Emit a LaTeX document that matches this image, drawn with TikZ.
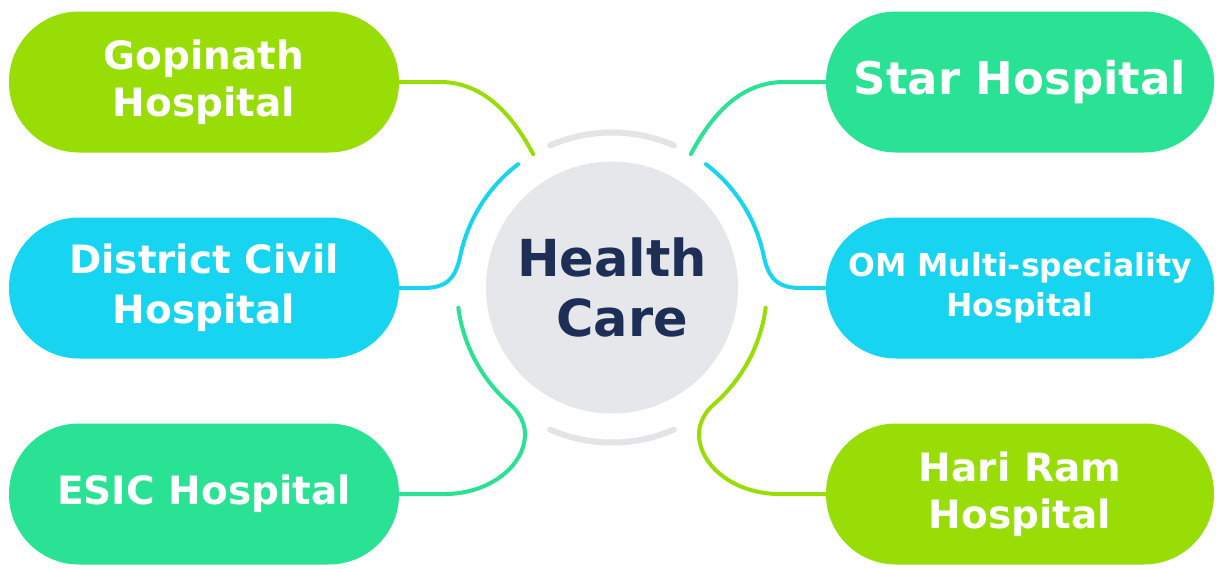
\documentclass[tikz,border=0pt]{standalone}
\usepackage{fontspec}
\setmainfont{DejaVu Sans}
\usetikzlibrary{calc}
\definecolor{cLime}{HTML}{98DE06}
\definecolor{cCyan}{HTML}{17D5F1}
\definecolor{cMint}{HTML}{2AE293}
\definecolor{cNavy}{HTML}{1D2F56}
\definecolor{cHub}{HTML}{E5E7EA}
\definecolor{cRing}{HTML}{E2E4E7}
\tikzset{
  pill/.style={rectangle, rounded corners=70pt, minimum width=390pt, minimum height=141pt,
    inner sep=0pt, text=white, align=center},
  conn/.style={line width=4pt, line cap=round},
  ring/.style={line width=6pt, line cap=round, cRing},
}
\begin{document}
\begin{tikzpicture}[x=1pt,y=-1pt]
\useasboundingbox (0,0) rectangle (1216,568);
\fill[white] (0,0) rectangle (1216,568);

% hub
\node[circle, fill=cHub, minimum size=252pt, inner sep=0pt, text=cNavy, align=center,
  font=\fontsize{51}{60}\selectfont\bfseries] (hub) at (612,287.5) {Health\\\hspace*{20pt}Care};

% pills
\node[pill, fill=cLime, font=\fontsize{39}{46.6}\selectfont\bfseries] (gop) at (204,82)
  {Gopinath\\Hospital};
\node[pill, fill=cCyan, font=\fontsize{39}{50}\selectfont\bfseries] (dist) at (204,288)
  {District Civil\\Hospital};
\node[pill, fill=cMint, font=\fontsize{39}{46.6}\selectfont\bfseries] (esic) at (204,494)
  {ESIC Hospital};
\node[pill, minimum width=388pt, fill=cMint, font=\fontsize{45}{52}\selectfont\bfseries] (star) at (1020,82)
  {Star Hospital};
\node[pill, minimum width=388pt, fill=cCyan, font=\fontsize{31.5}{40}\selectfont\bfseries] (om) at (1020,288)
  {OM Multi-speciality\\Hospital};
\node[pill, minimum width=388pt, fill=cLime, font=\fontsize{39}{46.6}\selectfont\bfseries] (hari) at (1020,494)
  {Hari Ram\\Hospital};

% rings
\draw[ring] ($(hub.center)+(-113.5:155)$) arc[start angle=-113.5, end angle=-66.5, radius=155];
\draw[ring] ($(hub.center)+(66.5:155)$) arc[start angle=66.5, end angle=113.5, radius=155];

% connector end points
\coordinate (ge) at ($(hub.center)+(-120.6:155)$);
\coordinate (se) at ($(hub.center)+(-59.4:155)$);
\coordinate (dj) at ($(hub.center)+(-168.7:155)$);
\coordinate (oj) at ($(hub.center)+(-11.3:155)$);
\coordinate (ej) at ($(hub.center)+(131:155)$);
\coordinate (hj) at ($(hub.center)+(49:155)$);

% connectors
\draw[conn, cLime] (gop.east) -- (440,82) .. controls (480,82) and (510,110) .. (ge);
\draw[conn, cMint] (star.west) -- (784,82) .. controls (744,82) and (714,110) .. (se);
\draw[conn, cCyan] (dist.east) -- (423,288) .. controls (445,288) and (455,280) .. (dj)
  arc[start angle=-168.7, end angle=-127.3, radius=155];
\draw[conn, cCyan] (om.west) -- (801,288) .. controls (779,288) and (769,280) .. (oj)
  arc[start angle=-11.3, end angle=-52.7, radius=155];
\draw[conn, cMint] (esic.east) -- (445,494) .. controls (489,494) and (525,466) .. (525,434)
  .. controls (525,422) and (518,411) .. (ej) arc[start angle=131, end angle=172.5, radius=155];
\draw[conn, cLime] (hari.west) -- (779,494) .. controls (735,494) and (699,466) .. (699,434)
  .. controls (699,422) and (706,411) .. (hj) arc[start angle=49, end angle=7.5, radius=155];
\end{tikzpicture}
\end{document}
